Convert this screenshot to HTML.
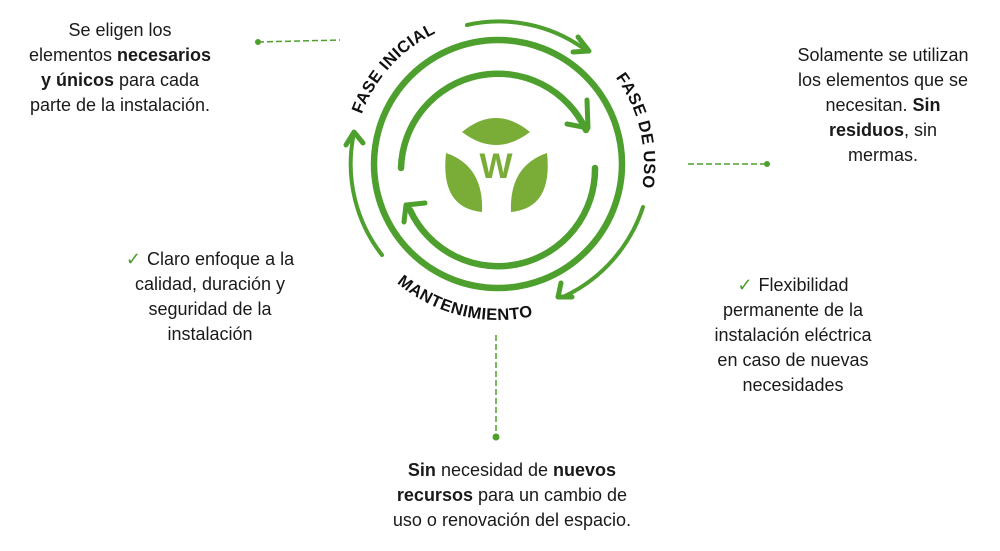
<!DOCTYPE html>
<html><head><meta charset="utf-8">
<style>
body{margin:0;background:#fff;}
#c{position:relative;width:1000px;height:551px;overflow:hidden;font-family:"Liberation Sans",Arial,sans-serif;font-size:18px;color:#1a1a1a;}
.t{position:absolute;text-align:center;line-height:25px;white-space:nowrap;transform:translateX(-50%);}
b{font-weight:bold;}
.ck{color:#4a9e2a;margin-right:6px;}
svg{position:absolute;left:0;top:0;}
</style></head><body><div id="c">
<svg width="1000" height="551" viewBox="0 0 1000 551">
<defs>
<path id="pIni" d="M 361.7,114.4 A 145 145 0 0 1 472.8,21.2"/>
<path id="pUso" d="M 601.2,60.8 A 146 146 0 0 1 635.2,214"/>
<path id="pMan" d="M 378.5,264.3 A 156 156 0 0 0 563.9,305.4"/>
</defs>
<g fill="none" stroke="#4ea02e" stroke-linecap="round">
<circle cx="498" cy="164" r="124" stroke-width="6.5"/>
<path d="M 401,168 A 97 97 0 0 1 586,130" stroke-width="6.5"/>
<path d="M 595,168 A 97 97 0 0 1 410,210" stroke-width="6.5"/>
<path d="M 467,25 A 146 146 0 0 1 583,48" stroke-width="4"/>
<path d="M 643,207 A 150 150 0 0 1 565,296" stroke-width="4"/>
<path d="M 382,255 A 148 148 0 0 1 353,138" stroke-width="4"/>
</g>
<g fill="none" stroke="#4ea02e" stroke-width="5" stroke-linecap="round" stroke-linejoin="round">
<path d="M 587,100 L 588,128 L 567,124"/>
<path d="M 404,222 L 406,205 L 425,203"/>
<path d="M 578,37 L 589,51 L 573,52"/>
<path d="M 561,283 L 558,297 L 572,297"/>
<path d="M 346,145 L 354,132 L 363,143"/>
</g>
<g fill="#7aad38">
<path d="M 462,132 Q 496,104 530,132 Q 496,158 462,132 Z"/>
<path d="M 446,153 Q 484,166 482,212 Q 440,208 446,153 Z"/>
<path d="M 547,153 Q 509,166 511,212 Q 553,208 547,153 Z"/>
</g>
<text x="496" y="178" text-anchor="middle" font-family="Liberation Sans,Arial,sans-serif" font-weight="bold" font-size="35" fill="#7aad38">W</text>
<g font-family="Liberation Sans,Arial,sans-serif" font-weight="bold" font-size="16.5" fill="#111" letter-spacing="0.5">
<text><textPath href="#pIni" startOffset="0">FASE INICIAL</textPath></text>
<text><textPath href="#pUso" startOffset="22">FASE DE USO</textPath></text>
<text><textPath href="#pMan" startOffset="26">MANTENIMIENTO</textPath></text>
</g>
<g stroke="#4ea02e" stroke-width="1.5" stroke-dasharray="6,3" fill="none">
<line x1="258" y1="42" x2="340" y2="40"/>
<line x1="688" y1="164" x2="767" y2="164"/>
<line x1="496" y1="335" x2="496" y2="437"/>
</g>
<g fill="#4ea02e">
<circle cx="258" cy="42" r="3"/>
<circle cx="767" cy="164" r="3"/>
<circle cx="496" cy="437" r="3.5"/>
</g>
</svg>
<div class="t" style="left:120px;top:18px;">Se eligen los<br>elementos <b>necesarios</b><br><b>y únicos</b> para cada<br>parte de la instalación.</div>
<div class="t" style="left:883px;top:43px;">Solamente se utilizan<br>los elementos que se<br>necesitan. <b>Sin</b><br><b>residuos</b>, sin<br>mermas.</div>
<div class="t" style="left:210px;top:247px;"><span class="ck">✓</span>Claro enfoque a la<br>calidad, duración y<br>seguridad de la<br>instalación</div>
<div class="t" style="left:793px;top:273px;"><span class="ck">✓</span>Flexibilidad<br>permanente de la<br>instalación eléctrica<br>en caso de nuevas<br>necesidades</div>
<div class="t" style="left:512px;top:458px;"><b>Sin</b> necesidad de <b>nuevos</b><br><b>recursos</b> para un cambio de<br>uso o renovación del espacio.</div>
</div></body></html>
